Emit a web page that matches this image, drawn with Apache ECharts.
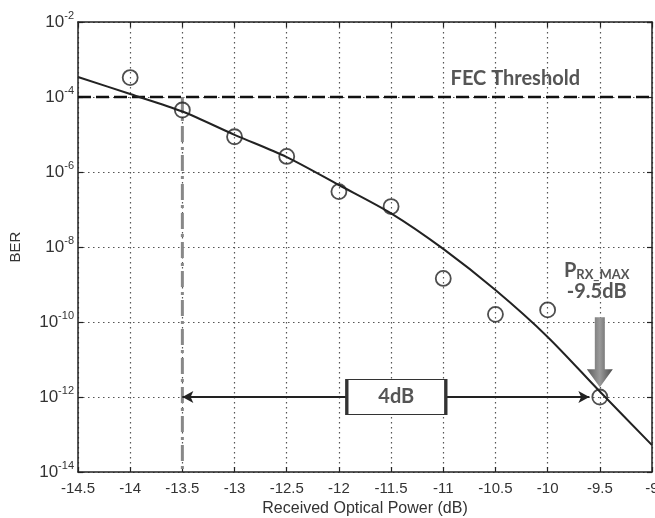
<!DOCTYPE html>
<html>
<head>
<meta charset="utf-8">
<script src="https://cdn.jsdelivr.net/npm/echarts@6/dist/echarts.min.js"></script>
<style>html,body{margin:0;padding:0;background:#fff}#c{width:655px;height:518px}</style>
</head>
<body>
<div id="c"></div>
<script>
// measured points
const measX = [-14, -13.5, -13, -12.5, -12, -11.5, -11, -10.5, -10, -9.5];
const measBER = [3.3e-4, 4.5e-5, 8.7e-6, 2.6e-6, 3.0e-7, 1.2e-7, 1.45e-9, 1.6e-10, 2.1e-10, 1.0e-12];
// fitted curve
const fitX = [-14.5, -14, -13.5, -13, -12.5, -12, -11.5, -11, -10.5, -10, -9.5, -9];
const fitBER = [3.4e-4, 1.2e-4, 4.1e-5, 9.8e-6, 2.5e-6, 4.5e-7, 7.9e-8, 8.9e-9, 7.1e-10, 4.0e-11, 1.4e-12, 5.2e-14];
// annotations
const fecLevel = 1e-4;
const fecLabel = 'FEC Threshold';
const sensX = -13.5;
const rxMaxX = -9.5;
const gapLevel = 1e-12;
const gapLabel = '4dB';
const xTicks = [-14.5, -14, -13.5, -13, -12.5, -12, -11.5, -11, -10.5, -10, -9.5, -9];
const yExponents = [-14, -12, -10, -8, -6, -4, -2];

const chart = echarts.init(document.getElementById('c'));
const tickFont = {fontFamily: 'Liberation Sans', fontSize: 15, color: '#333'};
const gridLine = {show: true, lineStyle: {type: [1.5, 3.5], color: '#555', width: 1.2}};
const axisLine = {show: true, lineStyle: {color: '#222', width: 1.5}};
const tick = {show: true, inside: true, length: 5, lineStyle: {color: '#222', width: 1.2}};

const xBase = {type: 'value', min: xTicks[0], max: xTicks[xTicks.length - 1], interval: 0.5};
const yBase = {type: 'log', logBase: 10, min: Math.pow(10, yExponents[0]), max: Math.pow(10, yExponents[yExponents.length - 1]), interval: 2};

chart.setOption({
  animation: false,
  grid: {left: 78, top: 22, right: 3, bottom: 46, containLabel: false, outerBoundsMode: 'none'},
  xAxis: [
    Object.assign({}, xBase, {
      position: 'bottom',
      name: 'Received Optical Power (dB)', nameLocation: 'middle', nameGap: 29,
      nameTextStyle: {fontFamily: 'Liberation Sans', fontSize: 16, color: '#333'},
      axisLine: axisLine, axisTick: tick, splitLine: gridLine,
      axisLabel: Object.assign({margin: 9, formatter: v => String(v)}, tickFont)
    }),
    Object.assign({}, xBase, {
      position: 'top', axisLine: axisLine, axisTick: tick,
      axisLabel: {show: false}, splitLine: {show: false}
    })
  ],
  yAxis: [
    Object.assign({}, yBase, {
      position: 'left',
      name: 'BER', nameLocation: 'middle', nameGap: 55, nameRotate: 90,
      nameTextStyle: {fontFamily: 'Liberation Sans', fontSize: 15, color: '#333'},
      axisLine: axisLine, axisTick: tick, splitLine: gridLine,
      axisLabel: {
        margin: 4,
        formatter: v => '{b|10}{s|' + Math.round(Math.log10(v)) + '}',
        rich: {
          b: {fontFamily: 'Liberation Sans', fontSize: 17, color: '#333'},
          s: {fontFamily: 'Liberation Sans', fontSize: 11, color: '#333', padding: [0, 0, 12, 0]}
        }
      }
    }),
    Object.assign({}, yBase, {
      position: 'right', axisLine: axisLine, axisTick: tick,
      axisLabel: {show: false}, splitLine: {show: false}
    })
  ],
  series: [
    {
      type: 'line', name: 'FEC', data: [[xTicks[0], fecLevel], [xTicks[xTicks.length - 1], fecLevel]],
      symbol: 'none', lineStyle: {color: '#111', width: 2.5, type: [13, 5]}, z: 3,
      markPoint: {
        symbol: 'rect', symbolSize: 1, itemStyle: {color: 'transparent'},
        label: {show: true, position: 'inside', color: '#555', fontFamily: 'Lato', fontWeight: 'bold', fontSize: 20},
        data: [{coord: [-10.31, 3.2e-4], value: fecLabel, label: {formatter: fecLabel}}]
      }
    },
    {
      type: 'line', name: 'sens', data: [[sensX, fecLevel], [sensX, Math.pow(10, yExponents[0])]],
      symbol: 'none', lineStyle: {color: '#888', width: 3, type: [16, 5, 3, 5]}, z: 2
    },
    {
      type: 'line', name: 'fit', data: fitX.map((x, i) => [x, fitBER[i]]),
      symbol: 'none', smooth: 0.3, lineStyle: {color: '#222', width: 2}, z: 4
    },
    {
      type: 'scatter', name: 'measured', data: measX.map((x, i) => [x, measBER[i]]),
      symbol: 'circle', symbolSize: 15,
      itemStyle: {color: 'rgba(255,255,255,0)', borderColor: '#222', borderWidth: 1.8}, z: 5
    },
    {
      type: 'line', name: 'annot', data: [], z: 6,
      markLine: {
        silent: true, symbol: ['arrow', 'arrow'], symbolSize: [9, 11],
        lineStyle: {color: '#222', width: 2, type: 'solid'}, label: {show: false},
        data: [[{coord: [sensX, gapLevel]}, {coord: [rxMaxX - 0.1, gapLevel]}]]
      },
      markPoint: {
        silent: true,
        data: [
          {
            coord: [-11.45, gapLevel], symbol: 'rect', symbolSize: [99, 35],
            itemStyle: {color: '#fff', borderColor: '#333', borderWidth: 2},
            label: {show: true, position: 'inside', formatter: gapLabel, color: '#555', fontFamily: 'Lato', fontWeight: 'bold', fontSize: 20}
          },
          {
            coord: [rxMaxX, 1.55e-11], symbol: 'path://M8,0 L18,0 L18,52 L26,52 L13,70 L0,52 L8,52 Z',
            symbolSize: [26, 70], symbolKeepAspect: false,
            itemStyle: {color: new echarts.graphic.LinearGradient(0, 0, 1, 0, [
              {offset: 0, color: '#5a5a5a'}, {offset: 0.5, color: '#9a9a9a'}, {offset: 1, color: '#4a4a4a'}
            ])},
            label: {show: false}
          },
          {
            coord: [rxMaxX - 0.03, 1.2e-9], symbol: 'rect', symbolSize: 1, itemStyle: {color: 'transparent'},
            label: {
              show: true, position: 'inside',
              formatter: '{p|P}{sub|RX_MAX}\n{v|' + rxMaxX + 'dB}',
              rich: {
                p: {color: '#555', fontFamily: 'Lato', fontSize: 20, fontWeight: 'bold'},
                sub: {color: '#555', fontFamily: 'Lato', fontSize: 13, fontWeight: 'bold', padding: [8, 0, 0, 0]},
                v: {color: '#555', fontFamily: 'Lato', fontSize: 20, fontWeight: 'bold', lineHeight: 22}
              }
            }
          }
        ]
      }
    }
  ]
});
</script>
</body>
</html>
